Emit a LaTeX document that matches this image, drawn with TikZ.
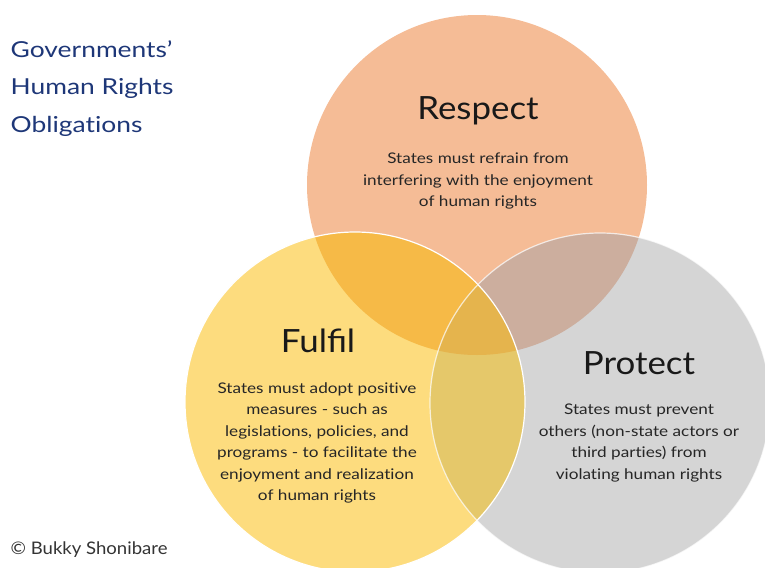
\documentclass[tikz,border=0pt]{standalone}
\usepackage{fontspec}
\setmainfont{Lato}
\newfontfamily\headfont{Lato}[FakeStretch=1.09]
\newfontfamily\bodyfont{Lato}[FakeStretch=1.17,Ligatures=NoCommon]
\newfontfamily\titlefont{Lato}[FakeStretch=1.2,Ligatures=NoCommon]
\newfontfamily\creditfont{Lato}[FakeStretch=1.07]
\usetikzlibrary{positioning}

\definecolor{respectC}{RGB}{245,188,150}
\definecolor{fulfilC}{RGB}{253,220,126}
\definecolor{protectC}{RGB}{213,213,213}
\definecolor{rfC}{RGB}{246,186,71}
\definecolor{rpC}{RGB}{204,174,158}
\definecolor{fpC}{RGB}{229,200,106}
\definecolor{rfpC}{RGB}{229,180,77}
\definecolor{titleC}{RGB}{30,55,120}

\tikzset{
  head/.style={font=\headfont\fontsize{24}{28}\selectfont, text=black!90},
  body/.style={font=\bodyfont\fontsize{11}{16.1}\selectfont, text=black!85, align=center},
  rim/.style={draw=white, line width=0.9pt}
}

\begin{document}
\begin{tikzpicture}[x=0.75pt,y=-0.75pt]
        \useasboundingbox (0,0) rectangle (765,568);
        \coordinate (R) at (477,185);
        \coordinate (F) at (355,402);
        \coordinate (P) at (600,403);
        \fill[respectC] (R) circle (170);
        \fill[fulfilC] (F) circle (170);
        \fill[protectC] (P) circle (170);
        \begin{scope}
            \clip (R) circle (170);
            \fill[rfC] (F) circle (170);
            \fill[rpC] (P) circle (170);
        \end{scope}
        \begin{scope}
            \clip (F) circle (170);
            \fill[fpC] (P) circle (170);
            \clip (R) circle (170);
            \fill[rfpC] (P) circle (170);
        \end{scope}
        \draw[rim, draw opacity=0.7] (P) circle (170);
        \draw[rim] (F) circle (170);
        \node[head] (respect) at (478,111) {Respect};
        \node[body] (respectTxt) at (478,181) {States must refrain from\\interfering with the enjoyment\\of human rights};
        \node[head] (fulfil) at (318,341) {Fulfil};
        \node[body] (fulfilTxt) at (317,443) {States must adopt positive\\measures - such as\\legislations, policies, and\\programs - to facilitate the\\enjoyment and realization\\of human rights};
        \node[head] (protect) at (639,363) {Protect};
        \node[body] (protectTxt) at (639,443) {States must prevent\\others (non-state actors or\\third parties) from\\violating human rights};
        \node[font=\titlefont\fontsize{16.5}{28}\selectfont, text=titleC, align=left, anchor=north west] (title) at (6,36) {Governments’\\Human Rights\\Obligations};
        \node[font=\creditfont\fontsize{13}{15}\selectfont, text=black!80, anchor=west] (credit) at (6,550) {© Bukky Shonibare};
\end{tikzpicture}
\end{document}
